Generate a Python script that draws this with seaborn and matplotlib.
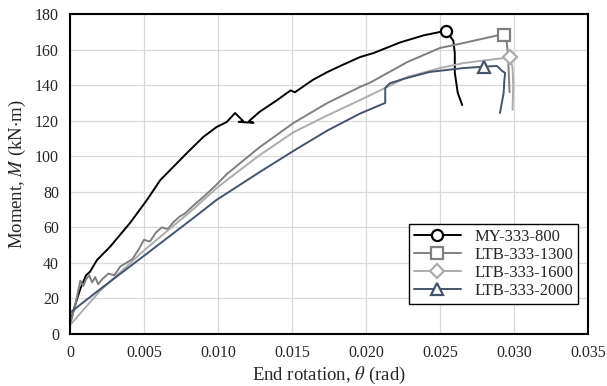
import numpy as np
import pandas as pd
import seaborn as sns
import matplotlib.pyplot as plt
from matplotlib.lines import Line2D

# data (rotation in rad, moment in kN*m)
theta_800 = [0, 0.0003, 0.00068, 0.00108, 0.00135, 0.00182, 0.0027, 0.00405, 0.0052, 0.0061,
             0.0079, 0.009, 0.0099, 0.0106, 0.01115, 0.0117, 0.0114, 0.0124, 0.0121, 0.0128,
             0.014, 0.0149, 0.0152, 0.0164, 0.0174, 0.0184, 0.0196, 0.0205, 0.0223, 0.0239,
             0.0250, 0.0254, 0.0259, 0.0260, 0.0260, 0.0262, 0.0265]
m_800 = [6, 15, 25, 33, 35, 41.6, 49, 62.4, 75.4, 86.6,
         101.8, 110.8, 116.4, 119.3, 124.3, 119.8, 119.3, 118.8, 119.8, 124.9,
         131.6, 137, 136, 142.9, 147.4, 151.3, 155.8, 158, 164, 168,
         169.9, 170.6, 165, 158, 147, 135.6, 128.8]

theta_1300 = [0, 0.0004, 0.0007, 0.0009, 0.0011, 0.0013, 0.0015, 0.0017, 0.0019, 0.0022,
              0.0026, 0.0030, 0.0034, 0.0038, 0.0042, 0.0046, 0.0050, 0.0054, 0.0058, 0.0062,
              0.0066, 0.0070, 0.0074, 0.0078, 0.0083, 0.0090, 0.0099, 0.0106, 0.0128, 0.0151,
              0.0174, 0.0196, 0.0203, 0.0228, 0.0250, 0.0266, 0.0288, 0.0293, 0.0295, 0.0296,
              0.0297]
m_1300 = [5, 18, 30, 27, 31, 33, 29, 32, 28, 31,
          34, 33, 38, 40, 42, 47, 53, 52, 57, 60,
          59, 63, 66, 68, 72, 77, 84, 90, 105, 118.7,
          130, 139, 141.5, 153, 160.9, 163.7, 167.8, 168.4, 165, 156,
          136]

theta_1600 = [0, 0.002, 0.005, 0.0083, 0.0099, 0.0106, 0.0128, 0.0151, 0.0174, 0.0196,
              0.0203, 0.0213, 0.0228, 0.025, 0.0266, 0.0288, 0.02973, 0.0299, 0.02995, 0.0299]
m_1600 = [5, 24, 47, 70, 82, 86.6, 100.5, 113.5, 123, 131.6,
          134.4, 138.4, 144.6, 149.6, 152.4, 154.7, 155.6, 150, 140, 126]

theta_2000 = [0, 0.00001, 0.002, 0.005, 0.0083, 0.0099, 0.0128, 0.0151, 0.0174, 0.0196,
              0.0213, 0.0213, 0.0216, 0.0225, 0.0243, 0.0266, 0.0280, 0.02885, 0.0292, 0.0294,
              0.02935, 0.0293, 0.02905]
m_2000 = [5, 12, 25, 44, 65, 75.4, 91, 103, 114.5, 124,
          130, 138.4, 141, 143.4, 147.4, 149.6, 150.4, 150.75, 148, 146.8,
          143, 135.6, 124.3]

specimens = ["MY-333-800", "LTB-333-1300", "LTB-333-1600", "LTB-333-2000"]
colors = ["#000000", "#7f7f7f", "#acacac", "#44546a"]
markers = ["o", "s", "D", "^"]
marker_idx = [31, 37, 16, 16]
marker_sizes = [8, 8.5, 7.5, 8]

x_ticks = [0, 0.005, 0.010, 0.015, 0.020, 0.025, 0.030, 0.035]
x_ticklabels = ["0", "0.005", "0.010", "0.015", "0.020", "0.025", "0.030", "0.035"]
y_ticks = [0, 20, 40, 60, 80, 100, 120, 140, 160, 180]

series = [(theta_800, m_800), (theta_1300, m_1300), (theta_1600, m_1600), (theta_2000, m_2000)]

sns.set_style("white")
plt.rcParams["font.family"] = ["Liberation Serif", "DejaVu Serif"]
plt.rcParams["mathtext.fontset"] = "stix"

fig = plt.figure(figsize=(6.07, 3.86), dpi=100)
ax = fig.add_axes([70 / 607, 1 - 334 / 386, 518 / 607, 320 / 386])

handles = []
for name, (th, mm), c, mk, idx, ms in zip(specimens, series, colors, markers, marker_idx, marker_sizes):
    df = pd.DataFrame({"theta": th, "M": mm})
    sns.lineplot(data=df, x="theta", y="M", ax=ax, sort=False, estimator=None,
                 color=c, lw=1.4, marker=mk, markevery=[idx], markersize=ms,
                 markerfacecolor="white", markeredgecolor=c, markeredgewidth=1.6,
                 legend=False)
    handles.append(Line2D([0], [0], color=c, lw=1.4, marker=mk, markersize=ms,
                          markerfacecolor="white", markeredgecolor=c, markeredgewidth=1.6,
                          label=name))

ax.set_xlim(0, 0.035)
ax.set_ylim(0, 180)
ax.set_xticks(x_ticks)
ax.set_xticklabels(x_ticklabels)
ax.set_yticks(y_ticks)
ax.tick_params(length=0, labelsize=11.5, pad=8)
ax.grid(True, color="#d9d9d9", lw=0.9)
for s in ax.spines.values():
    s.set_color("black")
    s.set_linewidth(1.5)

ax.set_xlabel(r"End rotation, $\theta$ (rad)", fontsize=13.5, labelpad=3)
ax.set_ylabel(r"Moment, $M$ (kN$\cdot$m)", fontsize=13.5, labelpad=5)

leg = ax.legend(handles=handles, loc="lower right", bbox_to_anchor=(0.981, 0.094),
                borderaxespad=0, fancybox=False, framealpha=1, edgecolor="black",
                fontsize=12, handlelength=2.8, handletextpad=0.8, labelspacing=0.12,
                borderpad=0.3)
leg.get_frame().set_linewidth(1.0)

fig.savefig("out.png", dpi=100)
